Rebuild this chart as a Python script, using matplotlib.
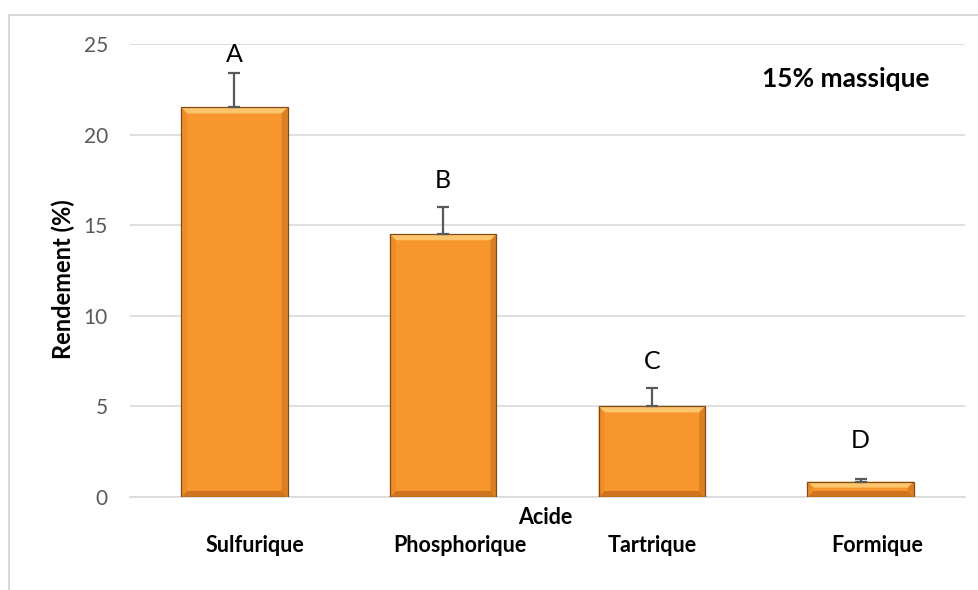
"""
Rendement par acide (15% massique) - bar chart with bevelled bars
"""

import matplotlib

matplotlib.use("Agg")
import matplotlib.pyplot as plt
import numpy as np
from matplotlib.patches import Polygon, Rectangle
from matplotlib.lines import Line2D

acids = ["Sulfurique", "Phosphorique", "Tartrique", "Formique"]
rendement = [21.5, 14.5, 5.0, 0.85]
erreur = [1.9, 1.5, 1.0, 0.15]
groupes = ["A", "B", "C", "D"]
groupe_y = [24.0, 17.05, 7.05, 2.7]

plt.rcParams["font.family"] = ["Lato", "DejaVu Sans"]

W, H = 979, 590
fig = plt.figure(figsize=(W / 100, H / 100), dpi=100)
ax = fig.add_axes([130 / W, (H - 497) / H, (965 - 130) / W, (497 - 44) / H])

ax.set_xlim(-0.5, 3.5)
ax.set_ylim(0, 25)
ax.set_yticks(np.arange(0, 26, 5))
ax.set_xticks([])
ax.yaxis.grid(True, color="#d9d9d9", linewidth=1.2)
ax.set_axisbelow(True)
for s in ["top", "right", "left"]:
    ax.spines[s].set_visible(False)
ax.spines["bottom"].set_color("#d9d9d9")
ax.spines["bottom"].set_linewidth(1.2)
ax.tick_params(axis="y", length=0, pad=16, labelsize=15, labelcolor="#595959")

# bevel size in data units (about 6 px)
px_x = (965 - 130) / 4.0
px_y = (497 - 44) / 25.0
bx = 6 / px_x
by = 6 / px_y

width = 0.51
face = "#F7962C"
for i, v in enumerate(rendement):
    x0, x1 = i - width / 2, i + width / 2
    b = min(by, v / 2.5)
    ax.add_patch(Rectangle((x0, 0), width, v, facecolor=face, edgecolor="none", zorder=2))
    # top highlight
    ax.add_patch(Polygon([(x0, v), (x1, v), (x1 - bx, v - b), (x0 + bx, v - b)],
                         closed=True, facecolor="#FDC56C", edgecolor="none", zorder=3))
    # bottom shade
    ax.add_patch(Polygon([(x0, 0), (x1, 0), (x1 - bx, b), (x0 + bx, b)],
                         closed=True, facecolor="#CF741E", edgecolor="none", zorder=3))
    # sides
    ax.add_patch(Polygon([(x0, 0), (x0 + bx, b), (x0 + bx, v - b), (x0, v)],
                         closed=True, facecolor="#EF8C27", edgecolor="none", zorder=3))
    ax.add_patch(Polygon([(x1, 0), (x1 - bx, b), (x1 - bx, v - b), (x1, v)],
                         closed=True, facecolor="#DA8023", edgecolor="none", zorder=3))
    ax.add_patch(Rectangle((x0, 0), width, v, facecolor="none", edgecolor="#7E4C14",
                           linewidth=0.9, zorder=4))

ax.errorbar(range(len(acids)), rendement, yerr=[[0] * len(erreur), erreur], fmt="none",
            ecolor="#595959", elinewidth=1.6, capsize=4.5, capthick=1.6, zorder=5)

for i, (g, gy) in enumerate(zip(groupes, groupe_y)):
    ax.text(i, gy, g, ha="center", va="baseline", fontsize=18, color="black")

# category labels under the axis
label_dx = [0.10, 0.08, 0.0, 0.08]
xt = ax.get_xaxis_transform()
for i, (name, dx) in enumerate(zip(acids, label_dx)):
    ax.text(i + dx, (497 - 535) / 453, name, transform=xt, ha="center", va="top",
            fontsize=15.5, fontweight="bold", clip_on=False)

ax.text(1.49, (497 - 518) / 453, "Acide", transform=xt, ha="center", va="center",
        fontsize=15.5, fontweight="bold", clip_on=False)

fig.text(63 / W, (H - 279) / H, "Rendement (%)", rotation=90, ha="center", va="center",
         fontsize=17, fontweight="bold")
fig.text(762 / W, (H - 87) / H, "15% massique", ha="left", va="baseline",
         fontsize=19, fontweight="bold")

# chart area frame
fig.add_artist(Line2D([9 / W, 1.0], [(H - 15) / H] * 2, color="#d9d9d9", linewidth=1.5))
fig.add_artist(Line2D([9 / W] * 2, [0.0, (H - 15) / H], color="#d9d9d9", linewidth=1.5))

fig.savefig("out.png", dpi=100)
plt.close(fig)
